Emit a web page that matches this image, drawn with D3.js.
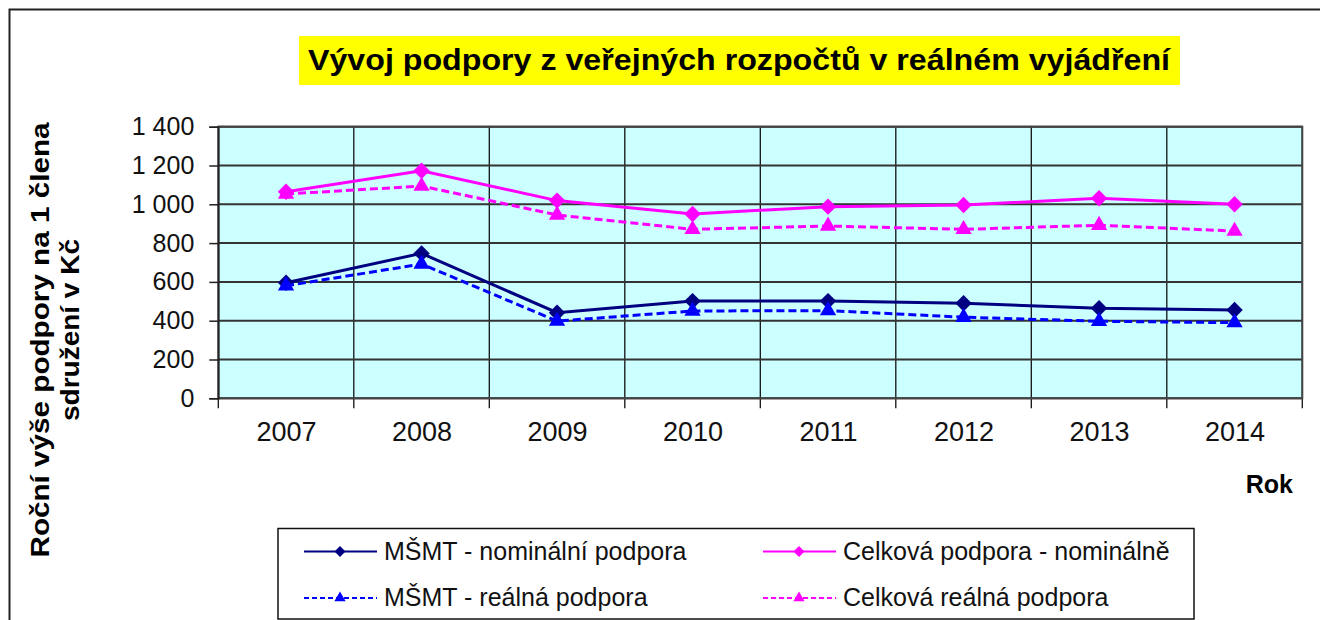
<html>
<title>Vývoj podpory z veřejných rozpočtů</title>
<script src="https://d3js.org/d3.v7.min.js"></script>
<style>
  body { margin: 0; background: white; }
  text { font-family: "Liberation Sans", Arial, sans-serif; }
</style>
<body>
<svg width=1320 height=620></svg>
<script>
// values
var years = ["2007","2008","2009","2010","2011","2012","2013","2014"];
var msmtNominal = [596, 747, 441, 501, 501, 490, 464, 455];
var celkNominal = [1065, 1173, 1019, 950, 988, 996, 1031, 1000];
var msmtReal = [580, 692, 398, 450, 452, 418, 397, 390];
var celkReal = [1053, 1094, 945, 871, 888, 871, 892, 862];
var yTicks = [0, 200, 400, 600, 800, 1000, 1200, 1400];

var seriesNames = ["MŠMT - nominální podpora", "Celková podpora - nominálně",
                   "MŠMT - reálná podpora", "Celková reálná podpora"];
var seriesValues = [msmtNominal, celkNominal, msmtReal, celkReal];
var seriesColors = ["#000080", "#FF00FF", "#0000FF", "#FF00FF"];
var seriesDash = [null, null, "8,4", "8,4"];
var seriesMarker = ["diamond", "diamond", "triangle", "triangle"];

var plotL = 218.3, plotR = 1302.3, plotT = 126.7, plotB = 398.3;

var svg = d3.select("svg");

// outer chart border
svg.append("rect")
  .attr("x", 9.5).attr("y", 9.5)
  .attr("width", 1400).attr("height", 700)
  .attr("fill", "white")
  .attr("stroke", "#222").attr("stroke-width", 2);

// title
svg.append("rect")
  .attr("x", 299).attr("y", 36)
  .attr("width", 881).attr("height", 49)
  .attr("fill", "#FFFF00");
svg.append("text")
  .attr("x", 308).attr("y", 70)
  .attr("textLength", 862)
  .attr("lengthAdjust", "spacingAndGlyphs")
  .attr("font-weight", "bold")
  .style("font-size", "30px")
  .text("Vývoj podpory z veřejných rozpočtů v reálném vyjádření");

var xs = d3.scalePoint().domain(years).range([plotL, plotR]).padding(0.5);
var ys = d3.scaleLinear().domain([0, 1400]).range([plotB, plotT]);
var step = xs.step();

// plot background
svg.append("rect")
  .attr("x", plotL).attr("y", plotT)
  .attr("width", plotR - plotL).attr("height", plotB - plotT)
  .attr("fill", "#CCFFFF");

// vertical grid between categories
var bounds = d3.range(years.length + 1).map(function(i) { return plotL + i * step; });
svg.append("g").selectAll("line").data(bounds).enter().append("line")
  .attr("x1", function(d) { return d; }).attr("x2", function(d) { return d; })
  .attr("y1", plotT).attr("y2", plotB + 10)
  .attr("stroke", "#111").attr("stroke-width", 1.3);

// horizontal grid
svg.append("g").selectAll("line").data(yTicks).enter().append("line")
  .attr("x1", plotL).attr("x2", plotR)
  .attr("y1", function(d) { return ys(d); }).attr("y2", function(d) { return ys(d); })
  .attr("stroke", "#333").attr("stroke-width", 2);

// plot border
svg.append("rect")
  .attr("x", plotL).attr("y", plotT)
  .attr("width", plotR - plotL).attr("height", plotB - plotT)
  .attr("fill", "none")
  .attr("stroke", "#444").attr("stroke-width", 2);

// y axis
var fmt = d3.formatLocale({decimal: ",", thousands: "\u00a0", grouping: [3], currency: ["", ""]}).format(",d");
var yAxis = svg.append("g")
  .attr("transform", "translate(" + plotL + ",0)")
  .call(d3.axisLeft(ys).tickValues(yTicks).tickFormat(fmt).tickSize(9).tickPadding(15));
yAxis.select(".domain").attr("stroke", "#222").attr("stroke-width", 1.5);
yAxis.selectAll(".tick line").attr("stroke", "#222").attr("stroke-width", 1.5);
yAxis.selectAll("text")
  .style("font-family", "'Liberation Sans', Arial, sans-serif")
  .style("font-size", "25px").attr("fill", "#111");

// x axis labels
var xAxis = svg.append("g")
  .attr("transform", "translate(0," + plotB + ")")
  .call(d3.axisBottom(xs).tickSize(0).tickPadding(24));
xAxis.select(".domain").remove();
xAxis.selectAll("text")
  .style("font-family", "'Liberation Sans', Arial, sans-serif")
  .style("font-size", "27px").attr("fill", "#111");

// axis titles
svg.append("text")
  .attr("transform", "translate(49,340) rotate(-90)")
  .attr("text-anchor", "middle")
  .attr("textLength", 435)
  .attr("lengthAdjust", "spacingAndGlyphs")
  .attr("font-weight", "bold")
  .style("font-size", "25px")
  .text("Roční výše podpory na 1 člena");
svg.append("text")
  .attr("transform", "translate(79,330) rotate(-90)")
  .attr("text-anchor", "middle")
  .attr("textLength", 182)
  .attr("lengthAdjust", "spacingAndGlyphs")
  .attr("font-weight", "bold")
  .style("font-size", "25px")
  .text("sdružení v Kč");
svg.append("text")
  .attr("x", 1293).attr("y", 493)
  .attr("text-anchor", "end")
  .attr("font-weight", "bold")
  .style("font-size", "25px")
  .text("Rok");

function markerPath(kind, big) {
  if (kind == "diamond") return d3.symbol().type(d3.symbolSquare).size(big ? 135 : 60)();
  return d3.symbol().type(d3.symbolTriangle).size(big ? 115 : 55)();
}

// series
var line = d3.line()
  .x(function(d, i) { return xs(years[i]); })
  .y(function(d) { return ys(d); });

seriesValues.forEach(function(vals, s) {
  var g = svg.append("g");
  g.append("path")
    .datum(vals)
    .attr("d", line)
    .attr("fill", "none")
    .attr("stroke", seriesColors[s])
    .attr("stroke-width", 3)
    .attr("stroke-dasharray", seriesDash[s]);
  g.selectAll("path.mk").data(vals).enter().append("path")
    .attr("class", "mk")
    .attr("d", markerPath(seriesMarker[s], true))
    .attr("transform", function(d, i) {
      return "translate(" + xs(years[i]) + "," + ys(d) + ")" +
        (seriesMarker[s] == "diamond" ? " rotate(45)" : "");
    })
    .attr("fill", seriesColors[s]);
});

// legend
svg.append("rect")
  .attr("x", 278).attr("y", 528.5)
  .attr("width", 916).attr("height", 90.5)
  .attr("fill", "white")
  .attr("stroke", "#111").attr("stroke-width", 1.5);

var legX = [304, 763];
var legY = [551.5, 598];
seriesNames.forEach(function(name, s) {
  var lx = legX[s % 2], ly = legY[Math.floor(s / 2)];
  svg.append("line")
    .attr("x1", lx).attr("x2", lx + 73)
    .attr("y1", ly).attr("y2", ly)
    .attr("stroke", seriesColors[s])
    .attr("stroke-width", 2.2)
    .attr("stroke-dasharray", seriesDash[s] ? "5,3" : null);
  svg.append("path")
    .attr("d", markerPath(seriesMarker[s], false))
    .attr("transform", "translate(" + (lx + 36) + "," + ly + ")" +
      (seriesMarker[s] == "diamond" ? " rotate(45)" : ""))
    .attr("fill", seriesColors[s]);
  svg.append("text")
    .attr("x", lx + 80).attr("y", ly + 8)
    .style("font-size", "25px")
    .attr("fill", "#111")
    .text(name);
});
</script>
</body>
</html>
